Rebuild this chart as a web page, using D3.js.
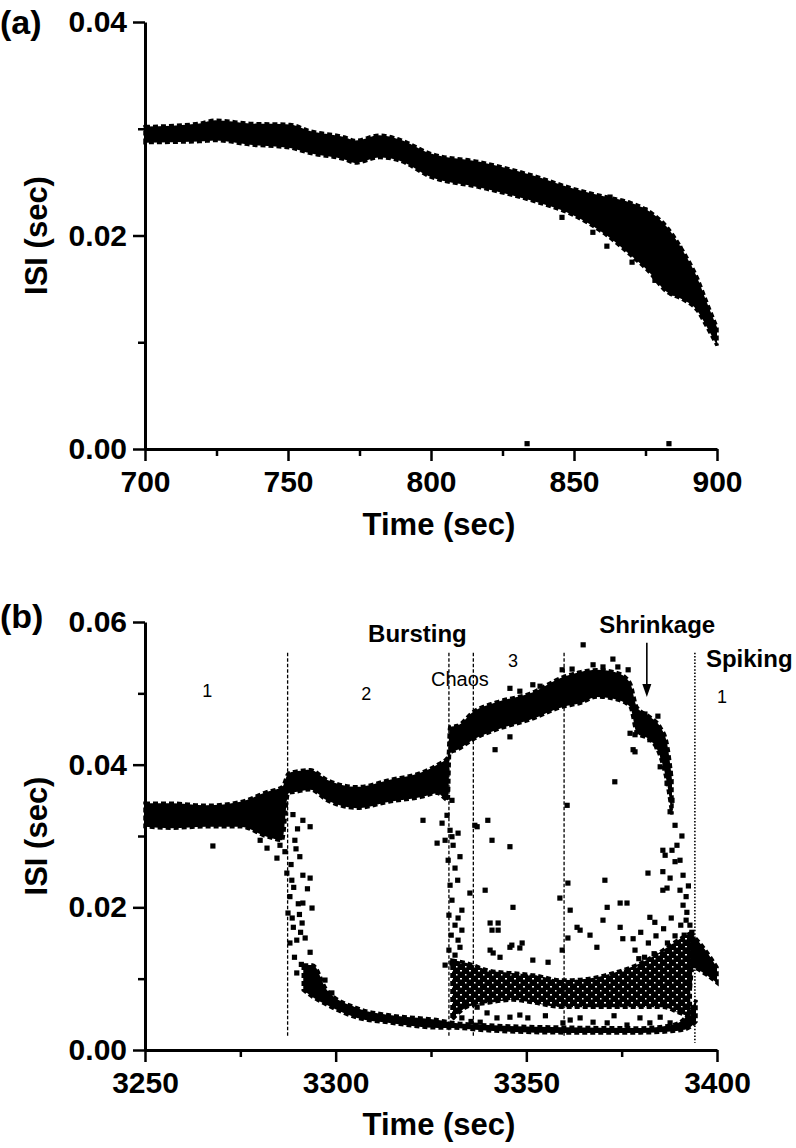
<!DOCTYPE html>
<html><head><meta charset="utf-8">
<script src="https://cdn.jsdelivr.net/npm/d3@7"></script>
<style>
body{margin:0;background:#fff;}
svg{display:block;font-family:"Liberation Sans",Arial,sans-serif;}
</style></head><body>
<svg id="c" width="796" height="1148"></svg>
<script>
// ---------------- DATA ----------------
// Panel (a)
const timeTicksA = [700, 750, 800, 850, 900];
const timeMinorA = [725, 775, 825, 875];
const isiTicksA = [0.00, 0.02, 0.04];
const isiMinorA = [0.01, 0.03];
// dense ISI band: [time, upper ISI, lower ISI]
const bandA = [
  [700, 0.0302, 0.0287], [719, 0.0305, 0.0288], [724.5, 0.0308, 0.0289],
  [736.7, 0.0305, 0.0285], [750.7, 0.0304, 0.0282], [757.7, 0.0298, 0.0277],
  [770, 0.0292, 0.0271], [773.4, 0.0289, 0.0268], [782, 0.0294, 0.0273],
  [789, 0.0290, 0.0270], [799.7, 0.0277, 0.0255], [817, 0.0269, 0.0245],
  [836, 0.0256, 0.0232], [849.7, 0.0244, 0.0219], [861.5, 0.0236, 0.0200],
  [869.6, 0.0231, 0.0182], [875.5, 0.0224, 0.0168], [882.5, 0.0208, 0.0147],
  [888, 0.0186, 0.0140], [893, 0.0161, 0.0130], [896.5, 0.0137, 0.0114],
  [900, 0.0114, 0.0097]
];
// isolated ISI points: [time, ISI]
const pointsA = [
  [833.6, 0.0005], [883.2, 0.0005],
  [870.3, 0.0175], [878.3, 0.0158], [861.5, 0.0190], [884.3, 0.0146],
  [887.0, 0.0188], [882.5, 0.0203], [874.8, 0.0224], [862.6, 0.0236],
  [845.8, 0.0217], [856.6, 0.0203]
];

// Panel (b)
const timeTicksB = [3250, 3300, 3350, 3400];
const timeMinorB = [3275, 3325, 3375];
const isiTicksB = [0.00, 0.02, 0.04, 0.06];
const isiMinorB = [0.01, 0.03, 0.05];
// upper (long ISI) branch: [time, upper, lower]
const upperB = [
  [3250, 0.0346, 0.0313], [3257, 0.0346, 0.0311], [3266, 0.0343, 0.0313],
  [3275, 0.0348, 0.0313], [3282, 0.0362, 0.0299], [3286, 0.0369, 0.0294],
  [3287.6, 0.0388, 0.0360], [3290, 0.0391, 0.0362], [3293.3, 0.0393, 0.0365],
  [3297.7, 0.0379, 0.0350], [3305.6, 0.0369, 0.0339], [3314.2, 0.0379, 0.0348],
  [3322.9, 0.0390, 0.0355], [3326.6, 0.0400, 0.0360], [3329.5, 0.0411, 0.0350],
  [3329.9, 0.0453, 0.0416], [3332, 0.0455, 0.0421], [3336, 0.0474, 0.0435],
  [3342.3, 0.0488, 0.0449], [3351, 0.0500, 0.0463], [3359.6, 0.0523, 0.0481],
  [3364.1, 0.0530, 0.0486], [3368.5, 0.0533, 0.0495], [3373.8, 0.0529, 0.0491],
  [3377.2, 0.0515, 0.0481], [3379, 0.0481, 0.0444], [3382.4, 0.0467, 0.0435],
  [3385.1, 0.0453, 0.0411], [3386.9, 0.0430, 0.0374], [3388.2, 0.0379, 0.0330]
];
// lowest (short ISI) branch
const lowerB = [
  [3291.5, 0.0119, 0.0084], [3294, 0.0119, 0.0074], [3297.7, 0.0084, 0.0063],
  [3305.6, 0.0059, 0.0045], [3314.2, 0.0049, 0.0038], [3327, 0.0042, 0.0031],
  [3330, 0.0039, 0.0031], [3340, 0.0035, 0.0027], [3360, 0.0032, 0.0024],
  [3380, 0.0031, 0.0024], [3388, 0.0035, 0.0026], [3391, 0.0042, 0.0028],
  [3393, 0.0056, 0.0032], [3394.5, 0.0070, 0.0040]
];
// middle branch (chaos / bursting 3)
const middleB = [
  [3330.5, 0.0126, 0.0042], [3334.4, 0.0122, 0.0060], [3340, 0.0112, 0.0066],
  [3346.5, 0.0108, 0.0070], [3352, 0.0105, 0.0066], [3359.6, 0.0098, 0.0060],
  [3366, 0.0100, 0.0060], [3372.7, 0.0108, 0.0060], [3380, 0.0122, 0.0060],
  [3385.8, 0.0140, 0.0060], [3390, 0.0155, 0.0052], [3393, 0.0164, 0.0046]
];
// spiking tail after the last boundary
const tailB = [
  [3393, 0.0165, 0.0085], [3393.7, 0.0161, 0.0115], [3397, 0.0140, 0.0106],
  [3400, 0.0116, 0.0094]
];
// scattered ISI points: [time, ISI]
const pointsB = [
  // transition 1 -> 2
  [3267.8,0.0286],[3282.0,0.0283],[3284.6,0.0269],[3280.2,0.0294],[3285.4,0.0287],[3286.7,0.0278],
  [3287.2,0.0248],[3288.5,0.0238],[3291.4,0.0245],[3293.3,0.0241],[3288.0,0.0215],[3287.5,0.0192],
  [3291.4,0.0206],[3293.8,0.0199],[3288.9,0.0172],[3291.2,0.0178],[3288.0,0.0150],[3289.8,0.0154],
  [3292.0,0.0157],[3293.3,0.0137],[3289.8,0.0108],[3292.5,0.0084],[3299.0,0.0080],[3297.2,0.0098],
  [3290.6,0.0271],[3289.3,0.0294],[3293.3,0.0313],[3291.4,0.0322],[3288.3,0.0260],[3289.0,0.0228],
  [3290.2,0.0205],[3288.6,0.0185],[3290.8,0.0165],[3289.2,0.0130],[3291.0,0.0120],[3290.0,0.0310],
  [3288.8,0.0330],[3289.6,0.0282],[3292.6,0.0226],[3290.5,0.0190],
  // region 2 strays
  [3322.9,0.0322],[3326.6,0.0290],[3327.9,0.0318],[3328.7,0.0294],
  // chaos onset stream
  [3329.2,0.0365],[3330.5,0.0350],[3329.2,0.0329],[3330.0,0.0308],[3330.8,0.0287],[3329.5,0.0266],
  [3331.3,0.0255],[3330.0,0.0231],[3330.5,0.0210],[3329.7,0.0189],[3331.3,0.0175],[3330.3,0.0161],
  [3332.1,0.0154],[3329.7,0.0140],[3331.3,0.0133],[3330.5,0.0122],[3332.6,0.0144],[3333.1,0.0168],
  [3332.1,0.0185],[3328.7,0.0119],[3333.1,0.0196],[3332.0,0.0238],[3332.6,0.0271],
  // region 3 interior
  [3330.5,0.0299],[3332.1,0.0304],[3335.2,0.0220],[3337.1,0.0313],[3339.9,0.0322],[3341.0,0.0294],
  [3345.7,0.0285],[3339.2,0.0224],[3346.5,0.0200],[3340.5,0.0178],[3342.6,0.0178],[3341.0,0.0168],
  [3342.6,0.0168],[3346.2,0.0147],[3348.9,0.0150],[3341.3,0.0136],[3360.7,0.0343],[3358.8,0.0213],
  [3360.9,0.0234],[3370.6,0.0238],[3361.5,0.0196],[3371.2,0.0200],[3374.6,0.0206],[3376.4,0.0206],
  [3370.1,0.0182],[3373.2,0.0376],[3378.0,0.0421],[3381.9,0.0248],[3385.8,0.0280],[3386.9,0.0227],
  [3374.6,0.0172],[3382.4,0.0186],[3383.7,0.0179],[3363.3,0.0172],[3364.1,0.0168],[3375.3,0.0156],
  [3378.0,0.0156],[3345.7,0.0144],[3348.3,0.0143],[3340.5,0.0140],[3368.5,0.0144],[3366.7,0.0161],
  [3360.9,0.0157],[3359.4,0.0140],[3355.7,0.0123],[3351.7,0.0126],[3343.1,0.0130],[3385.8,0.0224],
  // above / near upper branch
  [3364.9,0.0568],[3359.4,0.0533],[3362.0,0.0534],[3367.5,0.0540],[3372.7,0.0548],[3370.1,0.0537],
  [3374.0,0.0537],[3376.7,0.0533],[3345.7,0.0507],[3348.3,0.0503],[3351.7,0.0512],[3353.6,0.0510],
  [3384.5,0.0468],[3381.1,0.0471],[3377.2,0.0444],[3378.5,0.0418],[3341.8,0.0421],[3345.7,0.0439],
  [3336.5,0.0315],
  // shrinkage descent
  [3378.5,0.0442],[3380.6,0.0458],[3382.4,0.0435],[3384.3,0.0425],[3385.8,0.0411],[3385.1,0.0397],
  [3387.7,0.0388],[3387.2,0.0374],[3386.9,0.0374],[3388.2,0.0350],[3387.7,0.0334],[3389.0,0.0315],
  [3389.5,0.0287],[3390.3,0.0266],[3389.0,0.0264],[3391.1,0.0245],[3390.3,0.0224],[3391.9,0.0215],
  [3391.1,0.0203],[3392.1,0.0193],[3391.9,0.0182],[3392.9,0.0175],[3393.4,0.0165],[3391.4,0.0161],
  [3386.4,0.0273],[3388.2,0.0280],[3387.7,0.0241],[3385.8,0.0250],[3390.8,0.0300],[3392.5,0.0230],
  // right cloud
  [3380.0,0.0165],[3382.0,0.0150],[3384.0,0.0160],[3386.0,0.0170],[3388.0,0.0185],[3389.0,0.0160],
  [3381.0,0.0130],[3383.5,0.0135],[3387.0,0.0150],[3390.5,0.0175],[3392.0,0.0140],[3378.5,0.0140],
  [3379.5,0.0128],
  // between middle and lowest branch
  [3339.7,0.0052],[3342.3,0.0045],[3345.7,0.0046],[3348.3,0.0049],[3337.1,0.0060],[3337.9,0.0039],
  [3361.5,0.0042],[3364.1,0.0045],[3367.5,0.0039],[3371.2,0.0038],[3376.4,0.0035],[3379.8,0.0045],
  [3382.4,0.0038],[3385.1,0.0046],[3387.7,0.0038],[3390.3,0.0056],[3359.6,0.0038],[3350.4,0.0045],
  [3333.1,0.0045],[3335.5,0.0040],[3355.0,0.0048],[3373.0,0.0048]
];
// regime boundaries (time)
const boundariesB = [3287.4, 3329.7, 3336.1, 3359.9, 3394.2];
// regime labels: [text, time, ISI, kind]
const labelsB = [
  ["Bursting", 3308.5, 0.0572, "bold"],
  ["Shrinkage", 3369.1, 0.0585, "bold"],
  ["Spiking", 3397.1, 0.0537, "bold"],
  ["Chaos", 3325.0, 0.0510, "small"],
  ["1", 3266.3, 0.0495, "num"],
  ["2", 3308.0, 0.0491, "num"],
  ["3", 3346.5, 0.0537, "num"],
  ["1", 3401.3, 0.0486, "num"]
];
const arrowB = [3381.6, 0.0571, 0.0495];

// ---------------- DRAW ----------------
const svg = d3.select("#c");
const FONT = '"Liberation Sans",Arial,sans-serif';

// speckle pattern for the less dense cloud
const defs = svg.append("defs");
const pat = defs.append("pattern").attr("id", "speckle").attr("patternUnits", "userSpaceOnUse")
  .attr("width", 9).attr("height", 8);
pat.append("rect").attr("x", 0).attr("y", 0).attr("width", 9).attr("height", 8).attr("fill", "#000");
pat.append("rect").attr("x", 1).attr("y", 2).attr("width", 2).attr("height", 1.5).attr("fill", "#fff");
pat.append("rect").attr("x", 6).attr("y", 6).attr("width", 1.5).attr("height", 1.5).attr("fill", "#fff");

function panel(cfg) {
  const x = d3.scaleLinear().domain(cfg.xDom).range([145, 717]);
  const y = d3.scaleLinear().domain(cfg.yDom).range(cfg.yRange);
  const g = svg.append("g");
  const y0 = cfg.yRange[0];

  // bands
  const area = d3.area().x(d => x(d[0])).y0(d => y(d[2])).y1(d => y(d[1])).curve(d3.curveMonotoneX);
  cfg.bands.forEach((b, i) => {
    const sparse = cfg.sparse && cfg.sparse[i];
    g.append("path").datum(b).attr("d", area)
      .attr("fill", sparse ? "url(#speckle)" : "#000");
    g.append("path").datum(b).attr("d", area)
      .attr("fill", "none").attr("stroke", "#000").attr("stroke-width", 3.5)
      .attr("stroke-dasharray", "5,3");
  });
  // points
  g.append("g").selectAll("rect").data(cfg.points).join("rect")
    .attr("x", d => x(d[0]) - 2.6).attr("y", d => y(d[1]) - 2.6)
    .attr("width", 5.2).attr("height", 5.2).attr("fill", "#000");

  // axes
  g.append("g").attr("transform", `translate(0,${y0})`)
    .call(d3.axisBottom(x).tickValues(cfg.xTicks).tickFormat(d3.format("d")).tickSize(12).tickSizeOuter(0).tickPadding(10));
  g.append("g").attr("transform", `translate(0,${y0})`)
    .call(d3.axisBottom(x).tickValues(cfg.xMinor).tickFormat("").tickSize(7).tickSizeOuter(0))
    .select(".domain").remove();
  g.append("g").attr("transform", `translate(145,0)`)
    .call(d3.axisLeft(y).tickValues(cfg.yTicks).tickFormat(d3.format(".2f")).tickSize(12).tickSizeOuter(0).tickPadding(6));
  g.append("g").attr("transform", `translate(145,0)`)
    .call(d3.axisLeft(y).tickValues(cfg.yMinor).tickFormat("").tickSize(7).tickSizeOuter(0))
    .select(".domain").remove();
  g.selectAll(".domain").attr("stroke-width", 3).attr("stroke", "#000");
  g.selectAll(".tick line").attr("stroke-width", 2.5).attr("stroke", "#000");
  g.selectAll(".tick text").attr("font-size", 30).attr("font-weight", "bold")
    .attr("font-family", FONT).attr("fill", "#000");

  // titles
  g.append("text").attr("x", 439).attr("y", cfg.xTitleY).attr("text-anchor", "middle")
    .attr("font-size", 31).attr("font-weight", "bold").text("Time (sec)");
  const cy = (cfg.yRange[0] + cfg.yRange[1]) / 2;
  g.append("text").attr("transform", `translate(47,${cy}) rotate(-90)`).attr("text-anchor", "middle")
    .attr("font-size", 31).attr("font-weight", "bold").text("ISI (sec)");
  g.append("text").attr("x", 0).attr("y", cfg.tagY)
    .attr("font-size", 34).attr("font-weight", "bold").text(cfg.tag);
  return {g, x, y};
}

panel({
  xDom: [700, 900], yDom: [0, 0.04], yRange: [449, 22],
  xTicks: timeTicksA, xMinor: timeMinorA, yTicks: isiTicksA, yMinor: isiMinorA,
  bands: [bandA], points: pointsA, xTitleY: 535, tag: "(a)", tagY: 34
});

const pb = panel({
  xDom: [3250, 3400], yDom: [0, 0.06], yRange: [1050, 622],
  xTicks: timeTicksB, xMinor: timeMinorB, yTicks: isiTicksB, yMinor: isiMinorB,
  bands: [upperB, lowerB, middleB, tailB], sparse: [false, false, true, false],
  points: pointsB, xTitleY: 1135, tag: "(b)", tagY: 628
});

// regime boundaries
boundariesB.forEach((t, i) => {
  const last = i === boundariesB.length - 1;
  pb.g.append("line")
    .attr("x1", pb.x(t)).attr("x2", pb.x(t))
    .attr("y1", pb.y(0.0557)).attr("y2", pb.y(last ? 0.0010 : 0.0018))
    .attr("stroke", "#000").attr("stroke-width", last ? 1.6 : 1.3)
    .attr("stroke-dasharray", last ? "1.5,1.8" : "3.5,2");
});

// labels
labelsB.forEach(([txt, t, v, kind]) => {
  const el = pb.g.append("text").attr("x", pb.x(t)).attr("y", pb.y(v)).text(txt).attr("fill", "#000");
  if (kind === "bold") el.attr("font-size", 24).attr("font-weight", "bold");
  else if (kind === "small") el.attr("font-size", 20);
  else el.attr("font-size", 18).attr("text-anchor", "middle");
});

// arrow
const ax0 = pb.x(arrowB[0]);
pb.g.append("line").attr("x1", ax0).attr("x2", ax0)
  .attr("y1", pb.y(arrowB[1])).attr("y2", pb.y(arrowB[2]) - 10)
  .attr("stroke", "#000").attr("stroke-width", 1.6);
const tipY = pb.y(arrowB[2]);
pb.g.append("path")
  .attr("d", `M${ax0 - 4.5},${tipY - 13} L${ax0 + 4.5},${tipY - 13} L${ax0},${tipY} Z`)
  .attr("fill", "#000");
</script>
</body></html>
